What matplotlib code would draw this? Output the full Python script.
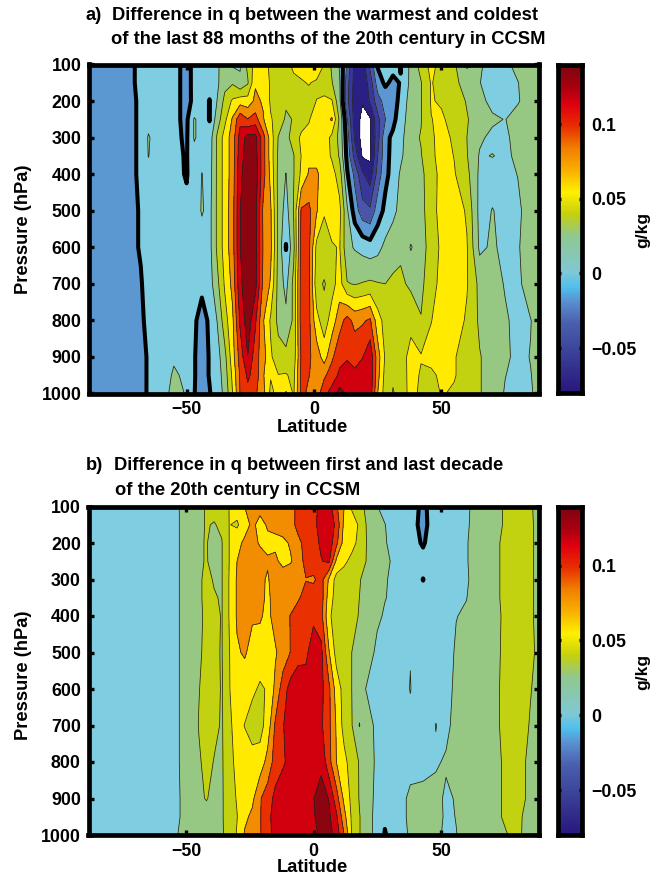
import numpy as np
import matplotlib
matplotlib.use("Agg")
import matplotlib.pyplot as plt
from matplotlib.colors import LinearSegmentedColormap

plt.rcParams['font.family'] = ['Liberation Sans', 'DejaVu Sans']
plt.rcParams['font.weight'] = 'bold'

W, H = 661, 877

# values are in 10^-3 g/kg
LEVELS = [-300, -70, -52.5, -35, -17.5, 0, 17.5, 35, 52.5, 70, 87.5, 105, 122.5, 300]
BAND_COLORS = ['#ffffff', '#2a1f82', '#38389a', '#4a55a8', '#5b97d0', '#7fcde0', '#96c883',
               '#c2d110', '#ffea00', '#f28c00', '#e83000', '#d0000f', '#8a0510']
BAR_VALUES = [-80, -65, -50, -35, -20, -10, 0, 25, 40, 55, 70, 85, 100, 115, 125, 140]
BAR_COLORS = ['#2a1a80', '#34328e', '#3f4a9e', '#4a5fae', '#5a90d0', '#50c0ee', '#7fc8d6', '#90c890',
              '#c5d010', '#fff000', '#f8b000', '#f28000', '#e83000', '#e00010', '#b00010', '#800510']
PRESS_TICKS = [100, 200, 300, 400, 500, 600, 700, 800, 900, 1000]
LAT_TICKS = [-50, 0, 50]
BAR_TICKS = [-50, 0, 50, 100]
BAR_TICK_LABELS = ['\u22120.05', '0', '0.05', '0.1']

A_P = [100, 150, 200, 250, 300, 350, 400, 500, 600, 700, 800, 900, 950, 1000]
A_LAT = [-88.5, -75, -68, -65, -60, -55, -50, -47, -44, -41,
         -38, -35, -32, -29, -26, -23, -20, -17, -14, -11, -8, -5, -2,
         1, 4, 7, 10, 13, 16, 19, 22, 25, 28, 31, 34,
         38, 42, 46, 50, 55, 60, 65, 70, 75, 80, 85, 88.5]
A_Q = [
 [-12,-6,3,6,7,5,-5,4,7,9,  14,28,15,16,40,60,62,48,44,42,60,62,65,  74,52,32,16,-20,-58,-62,-30,2,5,6,-1,  22,42,58,46,38,14,20,10,14,22,26,28],
 [-12,-6,3,6,7,5,-5,4,7,9,  14,30,33,20,33,68,65,50,44,42,44,50,54,  48,44,36,20,-28,-60,-66,-45,-8,3,-4,1,  22,34,54,44,38,30,18,10,15,17,26,28],
 [-12,-6,2,8,7,4,-4,3,12,-1,  18,40,55,62,60,74,68,50,42,38,40,42,44,  53,56,54,22,-30,-62,-69,-50,-25,-10,-6,4,  26,34,54,50,42,34,22,13,10,16,26,28],
 [-12,-6,2,12,7,3,-3,19,12,-1,  26,48,72,100,88,95,72,54,46,32,36,44,50,  70,62,72,32,-15,-62,-74,-72,-40,-18,-4,8,  28,34,52,56,44,36,28,20,17,24,28,30],
 [-12,-6,2,19,7,3,-2,19,12,8,  38,60,78,112,130,128,95,62,34,30,42,56,62,  70,62,48,30,-8,-55,-78,-72,-42,-4,3,12,  30,36,50,58,50,35,20,14,14,24,28,30],
 [-12,-6,2,18,7,3,-1,12,12,9,  38,60,78,115,132,130,95,62,32,24,34,53,66,  66,62,50,33,-5,-42,-72,-74,-35,-6,6,14,  30,34,48,60,52,36,16,18,15,20,28,30],
 [-12,-6,2,12,7,4,-1,8,18,10,  38,60,78,118,135,132,95,65,30,17,34,56,72,  72,64,60,44,2,-22,-50,-62,-28,-4,6,20,  30,32,42,60,54,40,14,12,12,18,28,30],
 [-12,-6,1,8,7,5,3,8,19,12,  38,60,80,122,135,128,85,72,30,10,36,90,92,  72,53,66,58,20,-8,-28,-32,-8,4,12,24,  34,30,44,60,64,50,12,18,14,14,26,30],
 [-12,-6,1,7,7,6,6,7,9,12,  38,60,80,122,135,128,87,74,30,-1,30,95,92,  48,50,50,54,22,16,12,8,12,22,30,32,  16,28,42,56,62,54,14,20,13,16,26,30],
 [-11,-5,-1,5,7,6,6,5,3,10,  30,55,75,118,135,128,84,68,28,12,40,95,92,  42,33,46,60,36,34,36,38,36,35,37,38,  32,30,48,56,60,54,30,26,16,14,26,28],
 [-11,-5,-2,3,7,6,4,2,-5,2,  18,45,66,108,133,108,72,50,30,22,38,96,92,  58,44,60,80,94,82,85,90,60,46,42,40,  46,36,52,60,62,50,32,26,20,12,17,24],
 [-11,-6,-3,1,7,15,6,1,-7,1,  10,30,62,95,122,95,78,55,42,40,42,90,90,  80,62,84,100,102,100,104,118,78,50,44,42,  60,54,58,60,54,44,36,28,20,14,18,22],
 [-11,-6,-3,1,7,20,14,1,-7,1,  8,26,56,90,108,98,72,54,53,54,48,92,88,  82,84,96,108,118,108,116,118,76,46,37,38,  62,50,49,56,54,44,36,28,18,12,17,22],
 [-11,-6,-3,1,8,24,16,0.5,-7,-1,  8,22,52,88,100,90,76,48,58,72,50,92,84,  78,100,112,130,120,115,116,115,70,44,34,40,  60,48,42,54,50,42,36,28,16,12,16,22],
]

B_P = [100, 150, 200, 250, 300, 350, 400, 500, 600, 700, 800, 900, 950, 1000]
B_LAT = [-88.5, -55, -52, -48, -45, -42, -39, -36, -33, -30, -27, -24, -21, -18, -15, -12, -9, -6, -3,
         0, 3, 6, 9, 12, 15, 18, 21, 25, 28, 33, 38, 43, 48, 52, 56, 60, 65, 70, 75, 80, 85, 88.5]
B_Q = [
 [8,14,18.5,26,32,36,40,44,53,60,70,75,76,78,78,80,84,90,98,  100,110,114,90,70,50,42,30,18,12,8,4,-2,5,8,11,15,24,30,36,44,37,30],
 [8,14,18.5,26,32,36,34,38,53,50,62,74,64,72,74,78,82,92,98,  100,112,118,100,66,62,50,33,24,18,8,4,-3,6,8,11,15,26,30,36,44,38,30],
 [8,14,18.5,26,33,36,28,34,53,64,74,76,68,66,66,66,72,84,92,  98,108,116,92,62,58,48,34,26,19,9,4,-1,6,9,12,16,28,30,38,44,38,30],
 [8,14,18.5,26,33,36,30,34,53,70,76,78,78,72,74,64,68,80,92,  96,104,108,66,56,48,42,34,28,20,14,7,3,7,9,12,16,28,30,38,44,38,30],
 [8,14,18.5,26,33,38,34,34,54,72,78,78,74,68,80,82,84,86,87,  85,94,68,46,44,42,36,30,26,19,12,6,-0.2,6,9,12,15,28,30,38,44,38,30],
 [8,14,18.5,26,33,38,36,34,54,72,78,78,76,66,78,80,82,86,92,  96,96,62,45,43,41,35,29,24,18,14,7,3,7,9,14,17,28,30,38,44,38,30],
 [8,14,18.5,26,32,38,40,34,54,72,78,72,72,66,76,82,88,94,98,  100,94,56,44,42,40,34,28,20,16,12,7,7,7,9,17,20,28,30,37,44,38,30],
 [8,14,18.5,24,32,40,38,34,52,68,72,64,62,60,68,78,88,100,100,  118,110,72,46,42,35,30,25,14,10,8,17,8,7,9,20,22,28,31,37,44,40,30],
 [8,14,18.5,22,34,44,44,33,52,60,60,56,50,54,74,96,112,114,115,  120,110,92,62,46,35,24,16,14,10,10,18,8,10,12,21,26,29,32,37,46,36,30],
 [8,14,18.5,22,36,46,40,33,50,58,52,44,46,60,90,104,114,118,118,  118,108,92,68,46,36,17,25,13,10,10,14,6,18,12,25,29,29,32,37,44,34,30],
 [8,14,18.5,22,32,42,34,33,46,58,60,60,60,76,95,102,112,116,118,  122,118,94,70,58,44,34,26,14,8,8,10,8,15,20,24,27,29,32,36,44,30,28],
 [8,14,18,20,32,36,30,33,44,54,62,66,86,96,110,118,118,120,120,  122,130,122,95,66,48,34,26,12,8,8,22,26,24,14,19,26,29,32,36,44,30,28],
 [8,14,18,20,32,28,26,33,44,52,66,74,86,100,112,116,118,120,120,  120,132,126,108,76,50,36,24,12,2,8,22,28,26,14,18,26,29,32,36,38,30,28],
 [8,14,20,24,34,32,26,33,42,54,72,80,86,98,112,116,118,120,122,  118,126,130,115,88,52,36,24,12,-1,8,20,26,24,12,17,24,28,31,34,38,29,27],
]


def box(left, top, right, bottom):
    return [left / W, 1 - bottom / H, (right - left) / W, (bottom - top) / H]


def text_px(fig, x, y, s, **kw):
    fig.text(x / W, 1 - y / H, s, **kw)


def panel(fig, rect, lats, press, q):
    ax = fig.add_axes(rect)
    X, Y = np.meshgrid(lats, press)
    Z = np.array(q, dtype=float)
    ax.contourf(X, Y, Z, levels=LEVELS, colors=BAND_COLORS)
    thin = [v for v in LEVELS[1:-1] if v != 0]
    ax.contour(X, Y, Z, levels=thin, colors='#222222', linewidths=0.55, linestyles='solid')
    ax.contour(X, Y, Z, levels=[0], colors='black', linewidths=2.9, linestyles='solid')
    ax.set_xlim(-88.3, 88.3)
    ax.set_ylim(1000, 100)
    ax.set_xticks(LAT_TICKS)
    ax.set_xticklabels([str(v).replace('-', '\u2212') for v in LAT_TICKS], fontsize=12.8, fontweight='bold')
    ax.set_yticks(PRESS_TICKS)
    ax.set_yticklabels([str(v) for v in PRESS_TICKS], fontsize=12.8, fontweight='bold')
    ax.tick_params(direction='in', length=3.5, width=2.4, top=True, right=True, pad=5.5)
    for s in ax.spines.values():
        s.set_linewidth(3.4)
        s.set_capstyle('projecting')
    return ax


def colorbar(fig, rect):
    cax = fig.add_axes(rect)
    grad = np.linspace(BAR_VALUES[0], BAR_VALUES[-1], 48)[:, None]
    pos = [(v - BAR_VALUES[0]) / (BAR_VALUES[-1] - BAR_VALUES[0]) for v in BAR_VALUES]
    cmap = LinearSegmentedColormap.from_list('bar', list(zip(pos, BAR_COLORS)))
    cax.imshow(grad, origin='lower', aspect='auto', cmap=cmap, interpolation='bilinear',
               extent=[0, 1, BAR_VALUES[0], BAR_VALUES[-1]])
    cax.set_xlim(0, 1)
    cax.set_ylim(-80, 139.5)
    cax.set_xticks([])
    cax.yaxis.tick_right()
    cax.set_yticks(BAR_TICKS)
    cax.set_yticklabels(BAR_TICK_LABELS, fontsize=12.8, fontweight='bold')
    cax.tick_params(axis='y', direction='in', length=2.5, width=2.4, left=True, right=True, pad=6.5)
    for s in cax.spines.values():
        s.set_linewidth(3.4)
    return cax


fig = plt.figure(figsize=(W / 100, H / 100), dpi=100)

panel(fig, box(89, 64.5, 539, 393.5), A_LAT, A_P, A_Q)
panel(fig, box(88.5, 506.5, 538.5, 835), B_LAT, B_P, B_Q)
colorbar(fig, box(558, 65, 582, 393))
colorbar(fig, box(558, 506.5, 582, 835))

tkw = dict(fontsize=13.2, fontweight='bold', ha='left', va='center')
text_px(fig, 85, 16, 'a)', **tkw)
text_px(fig, 111.5, 16, 'Difference in q between the warmest and coldest', **tkw)
text_px(fig, 111, 39, 'of the last 88 months of the 20th century in CCSM', **tkw)
text_px(fig, 86, 465, 'b)', **tkw)
text_px(fig, 114, 465, 'Difference in q between first and last decade', **tkw)
text_px(fig, 115, 491, 'of the 20th century in CCSM', **tkw)
lkw = dict(fontsize=13.2, fontweight='bold', rotation=90, ha='center', va='center')
text_px(fig, 24, 229, 'Pressure (hPa)', **lkw)
text_px(fig, 24, 675, 'Pressure (hPa)', **lkw)
text_px(fig, 312, 428, 'Latitude', fontsize=13.2, fontweight='bold', ha='center', va='center')
text_px(fig, 312, 868, 'Latitude', fontsize=13.2, fontweight='bold', ha='center', va='center')
ckw = dict(fontsize=12.5, fontweight='bold', rotation=90, ha='center', va='center')
text_px(fig, 643, 230, 'g/kg', **ckw)
text_px(fig, 643, 672, 'g/kg', **ckw)

fig.savefig('out.png', dpi=100)
